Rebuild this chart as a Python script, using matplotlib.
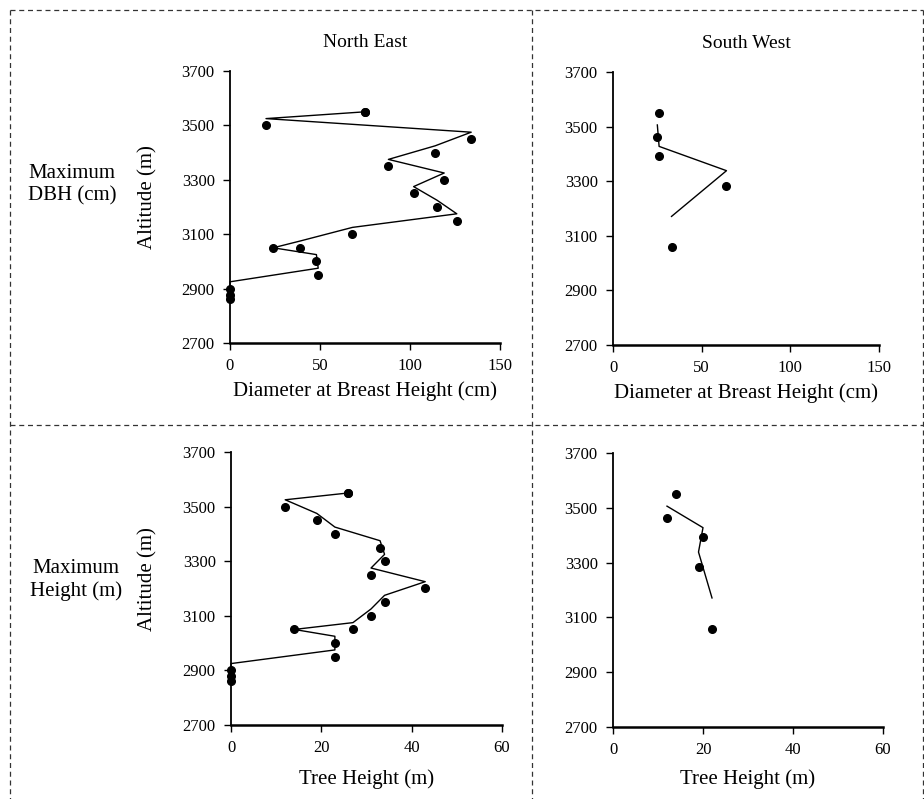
import matplotlib
matplotlib.use('Agg')
import matplotlib.pyplot as plt
from matplotlib.lines import Line2D

plt.rcParams['font.family'] = ['Liberation Serif', 'DejaVu Serif']

# altitude (m) of each plot, in data order (two plots at 3550 in the NE)
ne_alt = [3550, 3550, 3500, 3450, 3400, 3350, 3300, 3250, 3200, 3150, 3100,
          3050, 3050, 3000, 2950, 2900, 2878, 2861]
ne_dbh = [75, 75, 20, 134, 114, 88, 119, 102, 115, 126, 68,
          39, 24, 48, 49, 0, 0, 0]
ne_height = [26, 26, 12, 19, 23, 33, 34, 31, 43, 34, 31,
             27, 14, 23, 23, 0, 0, 0]

sw_alt = [3550, 3462, 3393, 3284, 3058]
sw_dbh = [26, 25, 26, 64, 33]
sw_height = [14, 12, 20, 19, 22]

W, H = 924, 799
fig = plt.figure(figsize=(W / 100, H / 100), dpi=100)


def px_axes(x0, y0, x1, y1):
    return fig.add_axes([x0 / W, 1 - y1 / H, (x1 - x0) / W, (y1 - y0) / H])


def moving_avg(x, y):
    # 2-period moving average trendline (average of altitude, at each x)
    mx = x[1:]
    my = [(y[i - 1] + y[i]) / 2 for i in range(1, len(y))]
    return mx, my


def panel(ax, x, y, xmax, xstep, xlabel, xpad, title=None, ylabel=None):
    mx, my = moving_avg(x, y)
    ax.plot(mx, my, color='black', lw=1.0, clip_on=False)
    ax.plot(x, y, 'o', color='black', ms=5.5, clip_on=False)
    ax.set_xlim(0, xmax)
    ax.set_ylim(2700, 3700)
    ax.set_xticks(range(0, xmax + 1, xstep))
    ax.set_yticks(range(2700, 3701, 200))
    for s in ['top', 'right']:
        ax.spines[s].set_visible(False)
    ax.spines['left'].set_linewidth(1.3)
    ax.spines['bottom'].set_linewidth(1.8)
    ax.tick_params(direction='out', length=5, width=1, labelsize=12, pad=6)
    ax.set_xlabel(xlabel, fontsize=15, labelpad=xpad)
    if title:
        ax.set_title(title, fontsize=14, pad=17)
    if ylabel:
        ax.set_ylabel(ylabel, fontsize=15)
        ax.yaxis.set_label_coords(-0.27, 0.535)


ax1 = px_axes(230, 71, 500, 343)
panel(ax1, ne_dbh, ne_alt, 150, 50, 'Diameter at Breast Height (cm)', 5,
      title='North East', ylabel='Altitude (m)')
ax2 = px_axes(613, 72, 879, 345)
panel(ax2, sw_dbh, sw_alt, 150, 50, 'Diameter at Breast Height (cm)', 5,
      title='South West')
ax3 = px_axes(231, 452, 502, 725)
panel(ax3, ne_height, ne_alt, 60, 20, 'Tree Height (m)', 9,
      ylabel='Altitude (m)')
ax4 = px_axes(613, 453, 883, 727)
panel(ax4, sw_height, sw_alt, 60, 20, 'Tree Height (m)', 8)

fig.text(72 / W, 1 - 185 / H, 'Maximum\nDBH (cm)', ha='center', va='center',
         fontsize=15, linespacing=1.2)
fig.text(76 / W, 1 - 580 / H, 'Maximum\nHeight (m)', ha='center', va='center',
         fontsize=15, linespacing=1.2)

# dashed frame and dividers
dash = dict(color='#333333', lw=0.9, ls=(0, (4, 3)))
segs = [((10, 10), (923, 10)), ((10, 10), (10, 799)), ((923, 10), (923, 799)),
        ((532, 10), (532, 799)), ((10, 425), (923, 425))]
for (xa, ya), (xb, yb) in segs:
    fig.add_artist(Line2D([xa / W, xb / W], [1 - ya / H, 1 - yb / H], **dash))

fig.savefig('out.png', dpi=100)
